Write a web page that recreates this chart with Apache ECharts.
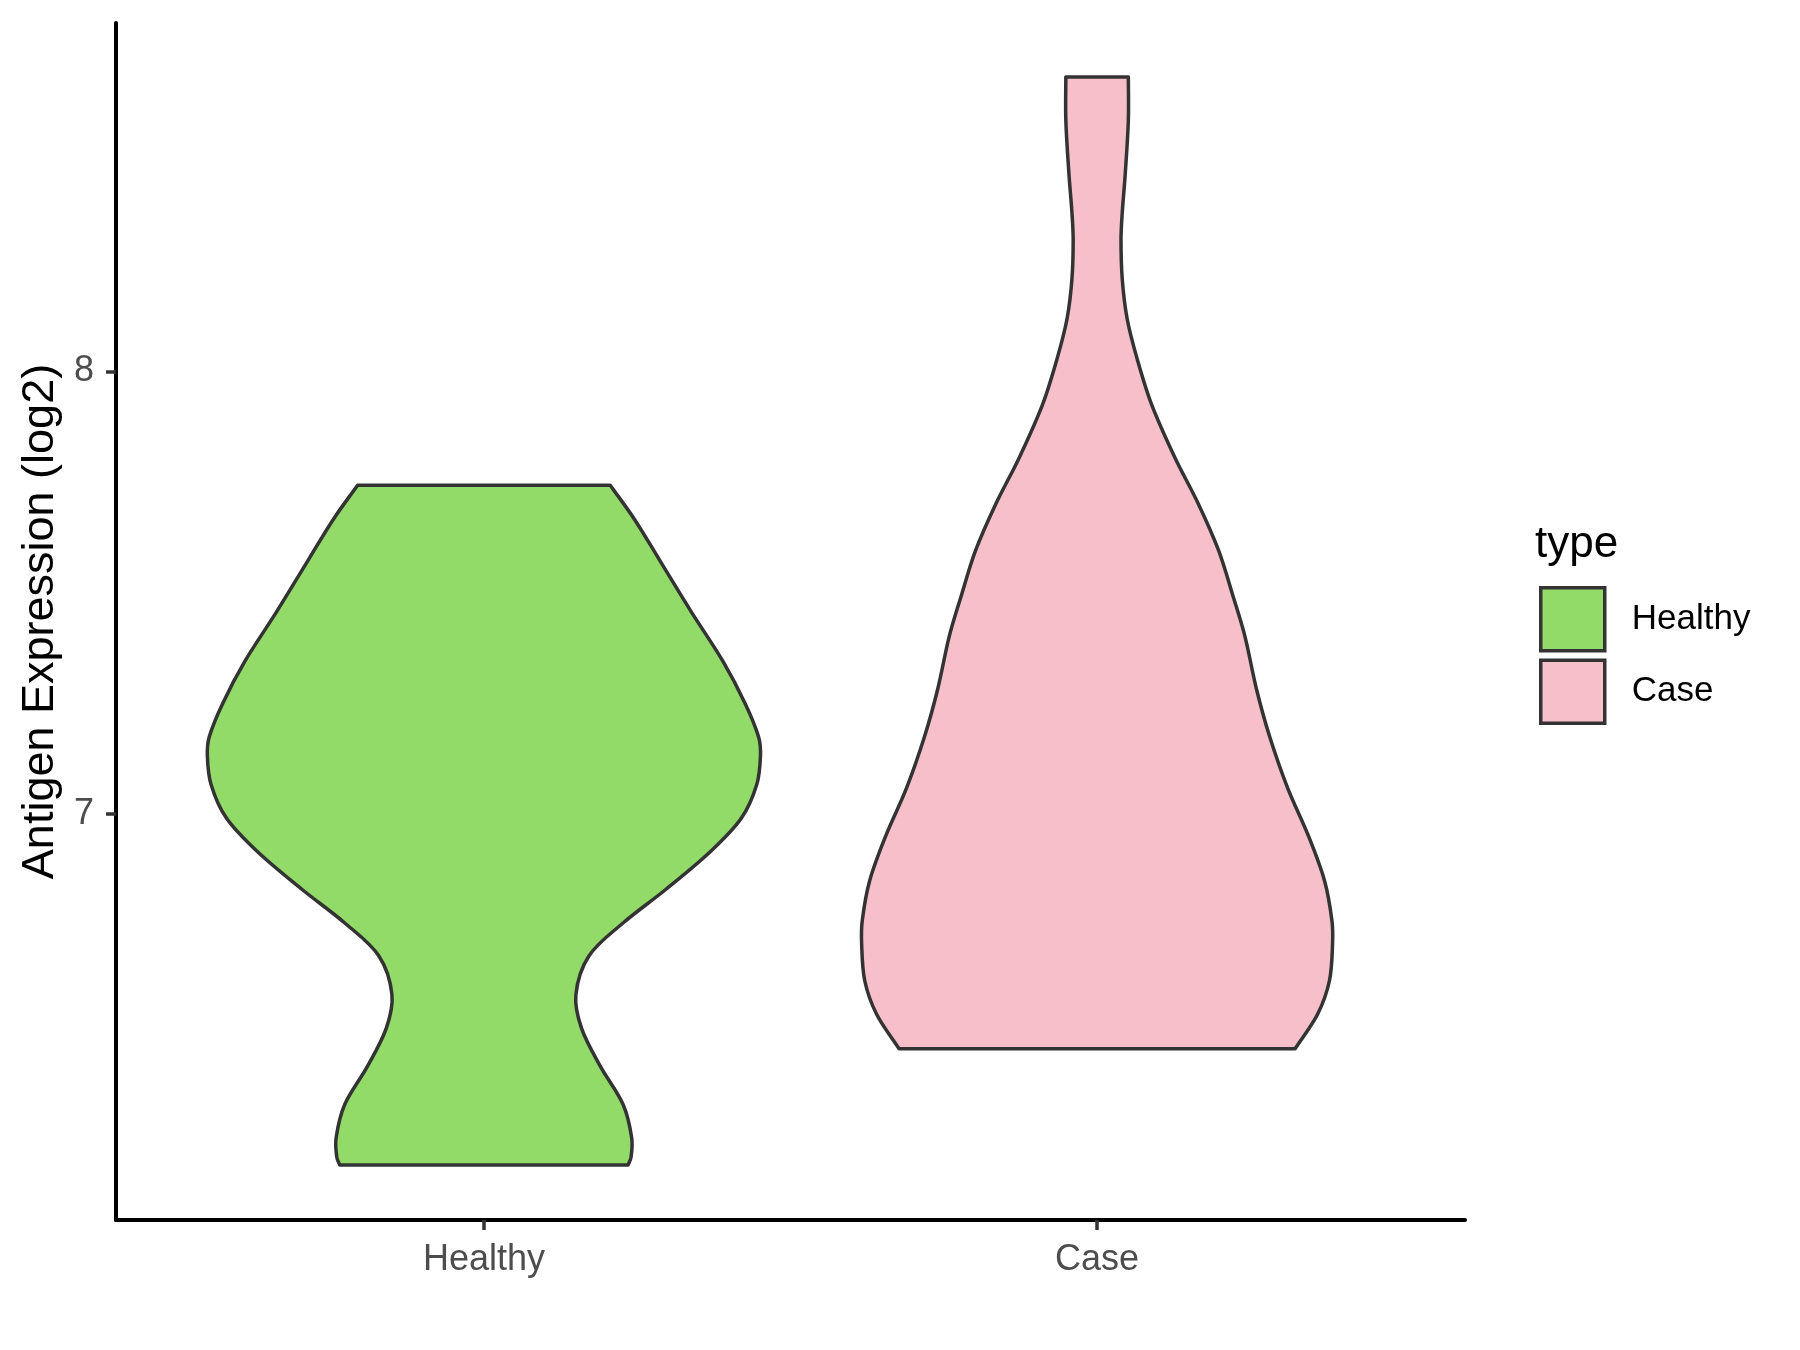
<!DOCTYPE html>
<html>
<head>
<meta charset="utf-8">
<title>Antigen Expression violin</title>
<script src="https://cdn.jsdelivr.net/npm/echarts@6/dist/echarts.min.js"></script>
<style>
  html, body { margin: 0; padding: 0; background: #fff; }
  #chart { width: 1800px; height: 1350px; }
</style>
</head>
<body>
<div id="chart"></div>
<script>
// categories on the x axis
const categories = ['Healthy', 'Case']
const yTicks = [7, 8]

// violin outlines: y value and half width (in x units)
const healthyY = [7.743, 7.665, 7.568, 7.455, 7.347, 7.250, 7.174, 7.131, 7.067, 6.991, 6.916,
  6.829, 6.754, 6.679, 6.592, 6.517, 6.430, 6.344, 6.269, 6.225, 6.207]
const healthyHalfWidth = [0.206, 0.246, 0.289, 0.339, 0.389, 0.426, 0.448, 0.451, 0.445, 0.420, 0.370,
  0.296, 0.227, 0.171, 0.150, 0.159, 0.190, 0.227, 0.241, 0.240, 0.235]

const caseY = [8.665, 8.568, 8.448, 8.358, 8.299, 8.209, 8.119, 8.030, 7.925, 7.805, 7.701, 7.596,
  7.491, 7.402, 7.282, 7.177, 7.058, 6.953, 6.849, 6.759, 6.707, 6.624, 6.549, 6.470]
const caseHalfWidth = [0.051, 0.051, 0.046, 0.041, 0.039, 0.041, 0.049, 0.065, 0.089, 0.127, 0.165, 0.198,
  0.222, 0.241, 0.260, 0.281, 0.311, 0.344, 0.371, 0.383, 0.384, 0.379, 0.360, 0.323]

const colors = ['#93DB69', '#F7BFCA']
const FONT = '"Liberation Sans", Arial, sans-serif'

function unit(a, b) {
  const dx = b[0] - a[0]
  const dy = b[1] - a[1]
  const len = Math.sqrt(dx * dx + dy * dy) || 1
  return [dx / len, dy / len]
}

// smooth cubic curve through the points, handles = 1/3 of each segment
function curveThrough(pts) {
  const n = pts.length
  const tan = pts.map((p, i) => unit(pts[Math.max(i - 1, 0)], pts[Math.min(i + 1, n - 1)]))
  let d = ''
  for (let i = 0; i < n - 1; i++) {
    const p1 = pts[i]
    const p2 = pts[i + 1]
    const dx = p2[0] - p1[0]
    const dy = p2[1] - p1[1]
    const h = Math.sqrt(dx * dx + dy * dy) / 3
    const c1 = [p1[0] + tan[i][0] * h, p1[1] + tan[i][1] * h]
    const c2 = [p2[0] - tan[i + 1][0] * h, p2[1] - tan[i + 1][1] * h]
    d += ' C' + c1[0] + ',' + c1[1] + ' ' + c2[0] + ',' + c2[1] + ' ' + p2[0] + ',' + p2[1]
  }
  return d
}

function violin(ys, hw) {
  return (params, api) => {
    const pos = api.value(0)
    const left = ys.map((y, i) => api.coord([pos - hw[i], y]))
    const right = ys.map((y, i) => api.coord([pos + hw[i], y])).reverse()
    let d = 'M' + left[0][0] + ',' + left[0][1]
    d += curveThrough(left)
    d += ' L' + right[0][0] + ',' + right[0][1]
    d += curveThrough(right)
    d += ' Z'
    return {
      type: 'path',
      shape: { pathData: d },
      style: {
        fill: api.visual('color'),
        stroke: '#333333',
        lineWidth: 3.5,
        lineJoin: 'round',
      },
    }
  }
}

let option = {
  backgroundColor: '#ffffff',
  animation: false,
  grid: { left: 116, right: 335, top: 23, bottom: 130 },
  graphic: [
    {
      type: 'text',
      left: 1535,
      top: 523,
      style: { text: 'type', font: '44px ' + FONT, fill: '#000' },
    },
  ],
  legend: {
    data: categories,
    orient: 'vertical',
    left: 1539,
    top: 586,
    padding: 0,
    icon: 'rect',
    itemWidth: 64,
    itemHeight: 63,
    itemGap: 6,
    selectedMode: false,
    itemStyle: { borderColor: '#333333', borderWidth: 3.5 },
    textStyle: { fontSize: 35, fontFamily: FONT, color: '#000', padding: [0, 0, 0, 22] },
  },
  xAxis: {
    type: 'value',
    min: 0.4,
    max: 2.6,
    splitLine: { show: false },
    axisLine: { onZero: false, lineStyle: { color: '#000', width: 4 } },
    axisTick: { customValues: [1, 2], length: 10, lineStyle: { color: '#333333', width: 3.5 } },
    axisLabel: {
      customValues: [1, 2],
      formatter: (v) => categories[Math.round(v) - 1],
      fontSize: 36,
      fontFamily: FONT,
      color: '#4D4D4D',
      margin: 22,
    },
  },
  yAxis: {
    type: 'value',
    min: 6.083,
    max: 8.787,
    name: 'Antigen Expression (log2)',
    nameLocation: 'middle',
    nameGap: 48,
    nameTextStyle: { fontSize: 45, fontFamily: FONT, color: '#000' },
    splitLine: { show: false },
    axisLine: { show: true, onZero: false, lineStyle: { color: '#000', width: 4 } },
    axisTick: { show: true, customValues: yTicks, length: 10, lineStyle: { color: '#333333', width: 3.5 } },
    axisLabel: {
      customValues: yTicks,
      formatter: (v) => String(v),
      fontSize: 36,
      fontFamily: FONT,
      color: '#4D4D4D',
      margin: 22,
    },
  },
  series: [
    {
      name: 'Healthy',
      type: 'custom',
      itemStyle: { color: colors[0] },
      renderItem: violin(healthyY, healthyHalfWidth),
      data: [[1, 7]],
    },
    {
      name: 'Case',
      type: 'custom',
      itemStyle: { color: colors[1] },
      renderItem: violin(caseY, caseHalfWidth),
      data: [[2, 7]],
    },
  ],
}

let myChart = echarts.init(document.getElementById('chart')) //初始化
myChart.setOption(option)
</script>
</body>
</html>
